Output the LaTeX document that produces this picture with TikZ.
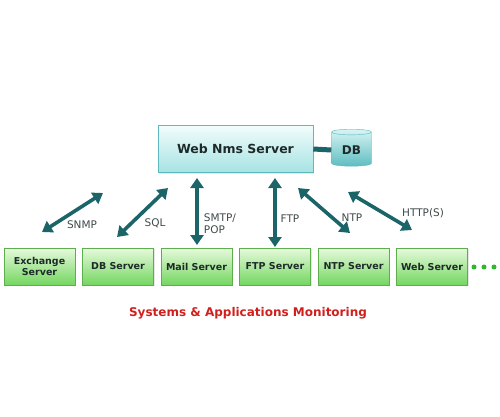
\documentclass[tikz,border=0pt]{standalone}
\usepackage{fontspec}
\setmainfont{DejaVu Sans}
\usetikzlibrary{arrows.meta,shapes.geometric,shadows}
\definecolor{ink}{HTML}{1E2A2A}
\definecolor{arrowteal}{HTML}{1B6468}
\definecolor{srvtop}{HTML}{E6FADC}
\definecolor{srvbot}{HTML}{74D660}
\definecolor{srvedge}{HTML}{5FAE4E}
\definecolor{nmstop}{HTML}{F2FCFC}
\definecolor{nmsbot}{HTML}{A6E3E3}
\definecolor{nmsedge}{HTML}{5FB9BC}
\definecolor{dbtop}{HTML}{D8F4F4}
\definecolor{dbbot}{HTML}{5EBDC0}
\definecolor{titlered}{HTML}{D0201E}
\definecolor{dotgreen}{HTML}{2EB82E}
\tikzset{
  server/.style={draw=srvedge,line width=.6pt,top color=srvtop,bottom color=srvbot,
    minimum width=71pt,minimum height=37pt,inner sep=1pt,align=center,
    font=\bfseries\fontsize{9.5}{11}\selectfont,text=ink,
    drop shadow={opacity=.2,shadow xshift=1pt,shadow yshift=-1pt}},
  nms/.style={draw=nmsedge,line width=.6pt,top color=nmstop,bottom color=nmsbot,
    minimum width=155pt,minimum height=47pt,
    font=\bfseries\fontsize{12.5}{14}\selectfont,text=ink,
    drop shadow={opacity=.2,shadow xshift=1pt,shadow yshift=-1pt}},
  dbcyl/.style={cylinder,shape border rotate=90,aspect=.22,draw=nmsedge,
    top color=dbtop,bottom color=dbbot,minimum width=40pt,minimum height=37pt,
    font=\bfseries\fontsize{12}{14}\selectfont,text=ink},
  link/.style={{Triangle[width=13pt,length=10pt]}-{Triangle[width=13pt,length=10pt]},
    draw=arrowteal,line width=3.6pt},
  proto/.style={font=\fontsize{10.5}{12}\selectfont,text=ink!85,align=left},
  dot/.style={circle,fill=dotgreen,inner sep=0pt,minimum size=5pt}}

\begin{document}
\begin{tikzpicture}[x=1pt,y=-1pt]
\useasboundingbox (0,0) rectangle (500,417);

\node[nms] (nms) at (235.5,149) {Web Nms Server};
\node[dbcyl] (db) at (351.5,150) {DB};
\draw[draw=arrowteal,line width=5pt] (nms.east) -- (db.west);

% monitored servers
\foreach \i/\name/\txt in {0/exch/Exchange\\Server,1/dbsrv/DB Server,2/mail/Mail Server,
  3/ftp/FTP Server,4/ntp/NTP Server,5/web/Web Server}
  \node[server] (\name) at (39.5+78.5*\i,266.5) {\txt};
\foreach \i in {0,1,2}
  \node[dot] (dot\i) at (474+10*\i,267) {};

% protocol links
\coordinate (snmp-a) at (42,232);   \coordinate (snmp-b) at (103,193);
\coordinate (sql-a) at (117,237);   \coordinate (sql-b) at (168,188);
\coordinate (smtp-a) at (197,245);  \coordinate (smtp-b) at (197,178);
\coordinate (ftp-a) at (275,247);   \coordinate (ftp-b) at (275,178);
\coordinate (ntp-a) at (350,233);   \coordinate (ntp-b) at (298,188);
\coordinate (http-a) at (412,230);  \coordinate (http-b) at (348,192);
\foreach \p in {snmp,sql,smtp,ftp,ntp,http}
  \draw[link] (\p-a) -- (\p-b);

\node[proto] (snmp) at (82,225) {SNMP};
\node[proto] (sql) at (155,223) {SQL};
\node[proto] (smtp) at (220,224) {SMTP/\\POP};
\node[proto] (ftplbl) at (290,219) {FTP};
\node[proto] (ntplbl) at (352,218) {NTP};
\node[proto] (http) at (423,213) {HTTP(S)};

\node[font=\bfseries\fontsize{12}{14}\selectfont,text=titlered] (title) at (248,313)
  {Systems \& Applications Monitoring};
\end{tikzpicture}
\end{document}
